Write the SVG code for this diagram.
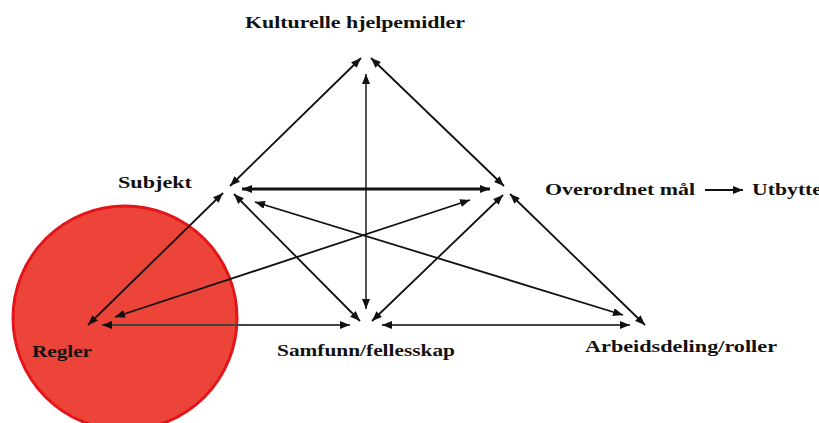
<svg xmlns="http://www.w3.org/2000/svg" width="819" height="423" viewBox="0 0 819 423">
<style>
.lbl{font-family:"Liberation Serif","Times New Roman",serif;font-weight:bold;font-size:17px;fill:#111}
.c{stroke:#111;stroke-width:1.8;fill:none;marker-start:url(#ah);marker-end:url(#ah)}
.g{stroke:#444}
.thick{stroke-width:3.2}
</style>
<defs>
<marker id="ah" viewBox="0 0 10 8" refX="10" refY="4" markerWidth="10" markerHeight="8" markerUnits="userSpaceOnUse" orient="auto-start-reverse">
<path d="M0,0 L10,4 L0,8 z" fill="#111"/>
</marker>
</defs>
<rect width="819" height="423" fill="#fff"/>
<g id="regler-circle">
<circle cx="125" cy="318" r="112" fill="#EC4439" stroke="#E3151A" stroke-width="3"/>
</g>
<g id="connectors">
<line class="c" x1="361" y1="58" x2="230" y2="186"/>
<line class="c" x1="371" y1="58" x2="504" y2="186"/>
<line class="c g" x1="366" y1="74" x2="366" y2="309"/>
<line class="c thick" x1="242" y1="189" x2="490" y2="189"/>
<line class="c" x1="223" y1="193" x2="88" y2="325"/>
<line class="c" x1="503" y1="195" x2="372" y2="321"/>
<line class="c" x1="234" y1="194" x2="360" y2="321"/>
<line class="c" x1="510" y1="194" x2="645" y2="325"/>
<line class="c" x1="255" y1="202" x2="623" y2="315"/>
<line class="c" x1="470" y1="200" x2="115" y2="317"/>
<line class="c g" x1="102" y1="325" x2="350" y2="325"/>
<line class="c g" x1="382" y1="325" x2="630" y2="325"/>
<line x1="705" y1="190" x2="743" y2="190" stroke="#111" stroke-width="1.8" marker-end="url(#ah)"/>
</g>
<g id="node-kulturelle"><text class="lbl" x="245" y="28" textLength="220" lengthAdjust="spacingAndGlyphs">Kulturelle hjelpemidler</text></g>
<g id="node-subjekt"><text class="lbl" x="118" y="188" textLength="74" lengthAdjust="spacingAndGlyphs">Subjekt</text></g>
<g id="node-mal"><text class="lbl" x="545" y="195" textLength="150" lengthAdjust="spacingAndGlyphs">Overordnet mål</text></g>
<g id="node-utbytte"><text class="lbl" x="752" y="195" textLength="70" lengthAdjust="spacingAndGlyphs">Utbytte</text></g>
<g id="node-regler"><text class="lbl" x="32" y="357" textLength="60" lengthAdjust="spacingAndGlyphs">Regler</text></g>
<g id="node-samfunn"><text class="lbl" x="277" y="356" textLength="178" lengthAdjust="spacingAndGlyphs">Samfunn/fellesskap</text></g>
<g id="node-arbeidsdeling"><text class="lbl" x="585" y="352" textLength="192" lengthAdjust="spacingAndGlyphs">Arbeidsdeling/roller</text></g>
</svg>
